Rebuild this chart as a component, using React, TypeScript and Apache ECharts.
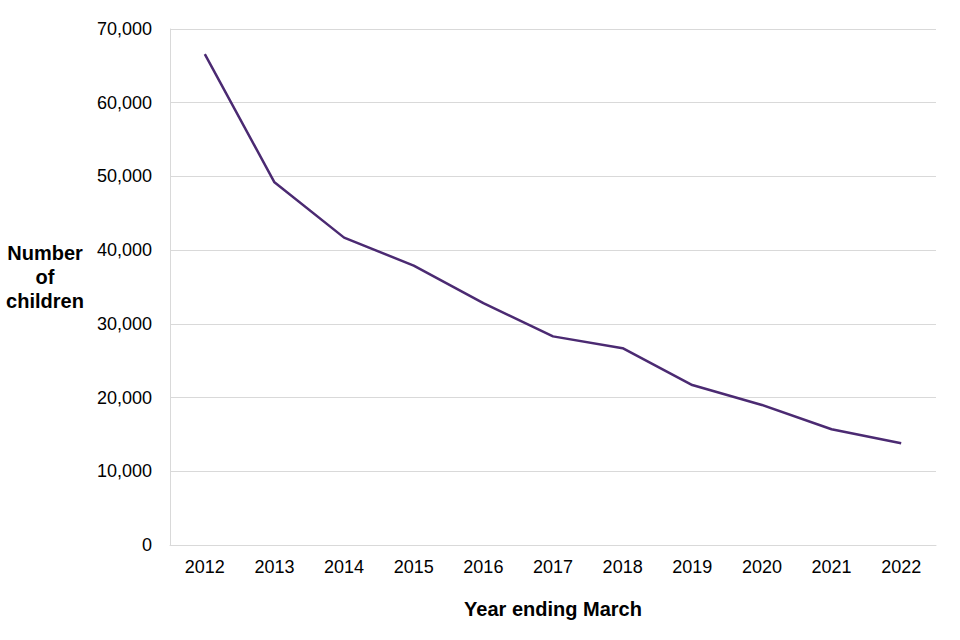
import React, { useEffect, useRef } from "react";
import * as echarts from "echarts";

const years = ["2012", "2013", "2014", "2015", "2016", "2017", "2018", "2019", "2020", "2021", "2022"];
const children = [66600, 49200, 41700, 37900, 32800, 28300, 26700, 21700, 19000, 15700, 13800];
const yTicks = { min: 0, max: 70000, interval: 10000 };

export default function App() {
  const ref = useRef<HTMLDivElement>(null);
  useEffect(() => {
    if (!ref.current) return;
    const chart = echarts.init(ref.current, null, { renderer: "svg" });
    const font = "'Liberation Sans', Arial, sans-serif";
    chart.setOption({
      animation: false,
      backgroundColor: "#ffffff",
      textStyle: { fontFamily: font },
      grid: { left: 170, right: 24, top: 29, bottom: 95, containLabel: false },
      xAxis: {
        type: "category",
        data: years,
        boundaryGap: true,
        axisLine: { show: true, lineStyle: { color: "#d9d9d9", width: 1 } },
        axisTick: { show: false },
        axisLabel: { color: "#000", fontSize: 18, margin: 13, fontFamily: font },
        name: "Year ending March",
        nameLocation: "middle",
        nameGap: 54,
        nameTextStyle: { color: "#000", fontSize: 20, fontWeight: "bold", fontFamily: font },
      },
      yAxis: {
        type: "value",
        min: yTicks.min,
        max: yTicks.max,
        interval: yTicks.interval,
        axisLine: { show: true, lineStyle: { color: "#d9d9d9", width: 1 } },
        axisTick: { show: false },
        splitLine: { show: true, lineStyle: { color: "#d9d9d9", width: 1 } },
        axisLabel: {
          color: "#000",
          fontSize: 18,
          margin: 18,
          fontFamily: font,
          formatter: (v: number) => v.toLocaleString("en-GB"),
        },
      },
      graphic: [
        {
          type: "text",
          x: 45,
          y: 277,
          style: {
            text: "Number\nof\nchildren",
            fill: "#000",
            font: `bold 20px ${font}`,
            textAlign: "center",
            textVerticalAlign: "middle",
            lineHeight: 24,
          },
        },
      ],
      series: [
        {
          type: "line",
          data: children,
          symbol: "none",
          lineStyle: { color: "#4b2a72", width: 2.5 },
        },
      ],
    });
    return () => chart.dispose();
  }, []);
  return <div ref={ref} style={{ position: "fixed", left: 0, top: 0, width: 960, height: 640 }} />;
}
